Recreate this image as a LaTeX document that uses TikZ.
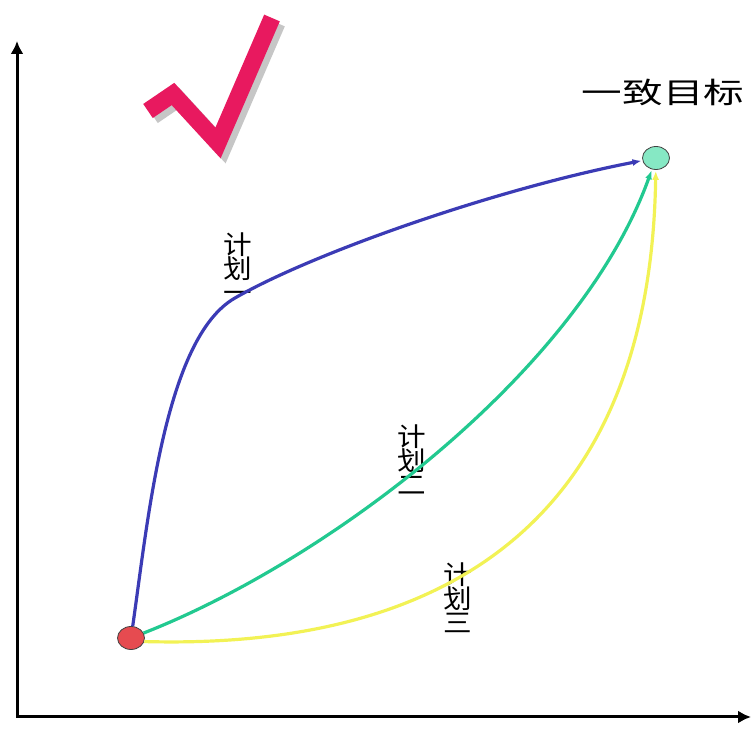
\documentclass[tikz,border=0pt]{standalone}
\usepackage{fontspec}
\newfontfamily\cjk{Noto Sans CJK SC}
\usepackage{tikz}
\usetikzlibrary{arrows, arrows.meta, shapes.geometric}

\definecolor{tickpink}{HTML}{E8195F}
\definecolor{planblue}{HTML}{3B3BB5}
\definecolor{plangreen}{HTML}{22C990}
\definecolor{planyellow}{HTML}{F2F255}
\definecolor{startred}{HTML}{E64B50}
\definecolor{goalmint}{HTML}{86E8C4}

\begin{document}
\begin{tikzpicture}[
            x = 1pt, y = 1pt, % one unit per pixel
            > = latex, % arrow head style
            semithick
            , every text node part/.style={align=center} % stacked labels
        ]

        \tikzstyle{dot}=[
            ellipse,
            draw = black!75,
            thick,
            minimum width = 27pt,
            minimum height = 23pt,
            inner sep = 0pt
        ]
        \tikzstyle{plan}=[
            font = \cjk\fontsize{26}{24}\selectfont,
            xscale = 1.1,
            inner sep = 0pt
        ]
        \tikzstyle{route}=[line width = 3.2pt, -{Latex[length=9pt, width=7pt]}, shorten > = 1pt]

        \useasboundingbox (0,0) rectangle (755,738);

        % axes
        \coordinate (O) at (17,21);
        \coordinate (ytop) at (17,697);
        \coordinate (xend) at (751,21);
        \draw[line width = 3pt, {Latex[length=13pt, width=13pt]}-{Latex[length=13pt, width=13pt]}] (ytop) |- (xend);

        % tick mark
        \draw[gray!45, line width = 17pt, line join = miter]
            (153,622) -- (178,639) -- (223,590) -- (277,715);
        \draw[tickpink, line width = 17pt, line join = miter]
            (148,627) -- (173,644) -- (218,595) -- (272,720);

        \node[dot, fill = startred] (start) at (131,100) {};
        \node[dot, fill = goalmint] (goal) at (656,580) {};
        \node[font = \cjk\fontsize{29}{30}\selectfont, xscale = 1.4, inner sep = 0pt] (title) at (663,646) {一致目标};

        \node[plan] (plan1) at (238,470) {计\\划\\一};
        \node[plan] (plan2) at (412,278) {计\\划\\二};
        \node[plan] (plan3) at (458,140) {计\\划\\三};

        \draw[route, planyellow] (start.-15) .. controls (450,88) and (650,220) .. (goal);
        \draw[route, plangreen] (start) .. controls (330,178) and (580,368) .. (goal);
        \draw[route, planblue] (start) .. controls (148,218) and (165,400) .. (235,440)
            .. controls (315,486) and (500,550) .. (goal);

    \end{tikzpicture}
\end{document}
